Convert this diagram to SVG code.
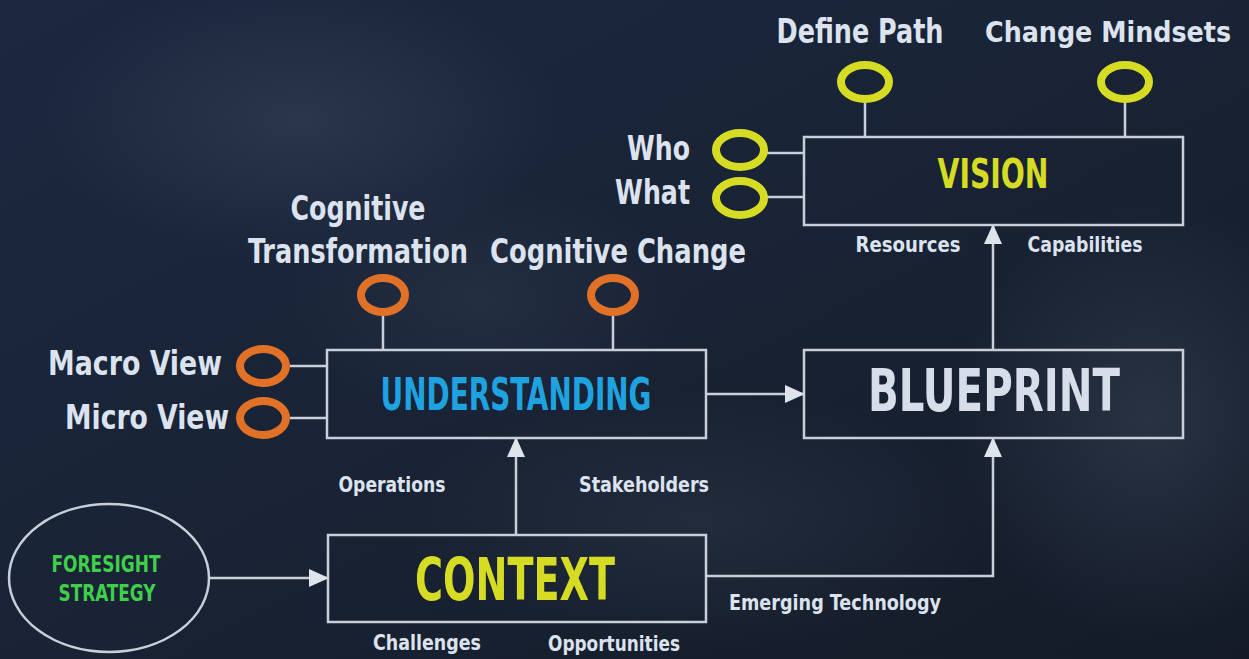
<svg xmlns="http://www.w3.org/2000/svg" width="1249" height="659" viewBox="0 0 1249 659">
<defs>
<linearGradient id="bg" x1="0" y1="0" x2="1" y2="1">
<stop offset="0" stop-color="#1c2840"/>
<stop offset="0.5" stop-color="#192335"/>
<stop offset="1" stop-color="#141b27"/>
</linearGradient>
<radialGradient id="glow" cx="0.5" cy="0.5" r="0.5">
<stop offset="0" stop-color="#3a465a" stop-opacity="0.5"/>
<stop offset="1" stop-color="#3a465a" stop-opacity="0"/>
</radialGradient>
<marker id="ah" viewBox="0 0 20 20" refX="18" refY="10" markerWidth="20" markerHeight="20" orient="auto" markerUnits="userSpaceOnUse">
<path d="M0,1 L20,10 L0,19 Z" fill="#dfe4ec"/>
</marker>
</defs>
<style>
.box{fill:none;stroke:#c9cfd9;stroke-width:2.5}
.ln{fill:none;stroke:#c9cfd9;stroke-width:2.5}
.yr{fill:none;stroke:#d6dc24;stroke-width:8}
.orr{fill:none;stroke:#e07126;stroke-width:8}
.t{font-family:"DejaVu Sans Condensed","DejaVu Sans",sans-serif;font-weight:bold;fill:#dde3ee}
.lbl{font-size:33px}
.sm{font-size:22px}
.big{font-weight:bold;font-family:"DejaVu Sans Condensed","DejaVu Sans",sans-serif;text-anchor:middle}
</style>
<rect width="1249" height="659" fill="url(#bg)"/>
<ellipse cx="300" cy="120" rx="260" ry="140" fill="url(#glow)"/>
<ellipse cx="1150" cy="420" rx="200" ry="220" fill="url(#glow)"/>
<ellipse cx="700" cy="520" rx="300" ry="130" fill="url(#glow)" opacity="0.6"/>
<ellipse cx="480" cy="300" rx="200" ry="120" fill="url(#glow)" opacity="0.6"/>

<g id="connectors">
<line class="ln" x1="865" y1="100" x2="865" y2="137"/>
<line class="ln" x1="1125" y1="100" x2="1125" y2="137"/>
<line class="ln" x1="767" y1="153" x2="804" y2="153"/>
<line class="ln" x1="767" y1="197" x2="804" y2="197"/>
<line class="ln" x1="383" y1="312" x2="383" y2="350"/>
<line class="ln" x1="613" y1="312" x2="613" y2="350"/>
<line class="ln" x1="290" y1="366" x2="327" y2="366"/>
<line class="ln" x1="290" y1="418" x2="327" y2="418"/>
<line class="ln" x1="993" y1="350" x2="993" y2="226" marker-end="url(#ah)"/>
<line class="ln" x1="706" y1="394" x2="803" y2="394" marker-end="url(#ah)"/>
<line class="ln" x1="516" y1="535" x2="516" y2="439" marker-end="url(#ah)"/>
<polyline class="ln" points="706,576 993,576 993,439" marker-end="url(#ah)"/>
<line class="ln" x1="210" y1="578" x2="327" y2="578" marker-end="url(#ah)"/>
</g>

<g id="vision">
<rect class="box" x="804" y="137" width="379" height="88"/>
<text class="big" x="993" y="188" font-size="41" fill="#d6dc24" textLength="111" lengthAdjust="spacingAndGlyphs">VISION</text>
<text class="t sm" x="908" y="252" text-anchor="middle" textLength="105" lengthAdjust="spacingAndGlyphs">Resources</text>
<text class="t sm" x="1085" y="252" text-anchor="middle" textLength="115" lengthAdjust="spacingAndGlyphs">Capabilities</text>
</g>
<g id="define-path">
<ellipse class="yr" cx="865" cy="82" rx="24" ry="17"/>
<text class="t lbl" x="860" y="43" text-anchor="middle" textLength="167" lengthAdjust="spacingAndGlyphs">Define Path</text>
</g>
<g id="change-mindsets">
<ellipse class="yr" cx="1125" cy="82" rx="24" ry="17"/>
<text class="t" font-size="29" x="1108" y="42" text-anchor="middle" textLength="246" lengthAdjust="spacingAndGlyphs">Change Mindsets</text>
</g>
<g id="who">
<ellipse class="yr" cx="740" cy="150" rx="24" ry="17"/>
<text class="t lbl" x="690" y="160" text-anchor="end" textLength="63" lengthAdjust="spacingAndGlyphs">Who</text>
</g>
<g id="what">
<ellipse class="yr" cx="740" cy="198" rx="24" ry="17"/>
<text class="t lbl" x="690" y="204" text-anchor="end" textLength="75" lengthAdjust="spacingAndGlyphs">What</text>
</g>

<g id="understanding">
<rect class="box" x="327" y="350" width="379" height="88"/>
<text class="big" x="516" y="410" font-size="44" fill="#1ea2e0" textLength="271" lengthAdjust="spacingAndGlyphs">UNDERSTANDING</text>
<text class="t sm" x="392" y="492" text-anchor="middle" textLength="107" lengthAdjust="spacingAndGlyphs">Operations</text>
<text class="t sm" x="644" y="492" text-anchor="middle" textLength="130" lengthAdjust="spacingAndGlyphs">Stakeholders</text>
</g>
<g id="cognitive-transformation">
<ellipse class="orr" cx="383" cy="295" rx="22" ry="17"/>
<text class="t lbl" x="358" y="220" text-anchor="middle" textLength="135" lengthAdjust="spacingAndGlyphs">Cognitive</text>
<text class="t lbl" x="358" y="263" text-anchor="middle" textLength="220" lengthAdjust="spacingAndGlyphs">Transformation</text>
</g>
<g id="cognitive-change">
<ellipse class="orr" cx="613" cy="295" rx="22" ry="17"/>
<text class="t lbl" x="618" y="263" text-anchor="middle" textLength="256" lengthAdjust="spacingAndGlyphs">Cognitive Change</text>
</g>
<g id="macro-view">
<ellipse class="orr" cx="263" cy="366" rx="23" ry="17"/>
<text class="t lbl" x="222" y="375" text-anchor="end" textLength="174" lengthAdjust="spacingAndGlyphs">Macro View</text>
</g>
<g id="micro-view">
<ellipse class="orr" cx="263" cy="418" rx="23" ry="17"/>
<text class="t lbl" x="229" y="429" text-anchor="end" textLength="164" lengthAdjust="spacingAndGlyphs">Micro View</text>
</g>

<g id="blueprint">
<rect class="box" x="804" y="350" width="379" height="88"/>
<text class="big" x="994" y="411" font-size="58" fill="#d7deea" textLength="252" lengthAdjust="spacingAndGlyphs">BLUEPRINT</text>
</g>

<g id="context">
<rect class="box" x="328" y="535" width="378" height="87"/>
<text class="big" x="515" y="600" font-size="58" fill="#d6dc24" textLength="200" lengthAdjust="spacingAndGlyphs">CONTEXT</text>
<text class="t sm" x="427" y="650" text-anchor="middle" textLength="108" lengthAdjust="spacingAndGlyphs">Challenges</text>
<text class="t sm" x="614" y="651" text-anchor="middle" textLength="132" lengthAdjust="spacingAndGlyphs">Opportunities</text>
<text class="t sm" x="835" y="610" text-anchor="middle" textLength="212" lengthAdjust="spacingAndGlyphs">Emerging Technology</text>
</g>

<g id="foresight-strategy">
<ellipse cx="109" cy="578" rx="100" ry="74" fill="none" stroke="#c9cfd9" stroke-width="2.5"/>
<text class="big" x="106" y="572" font-size="23" fill="#3fcf4a" textLength="109" lengthAdjust="spacingAndGlyphs">FORESIGHT</text>
<text class="big" x="107" y="601" font-size="23" fill="#3fcf4a" textLength="97" lengthAdjust="spacingAndGlyphs">STRATEGY</text>
</g>
</svg>
